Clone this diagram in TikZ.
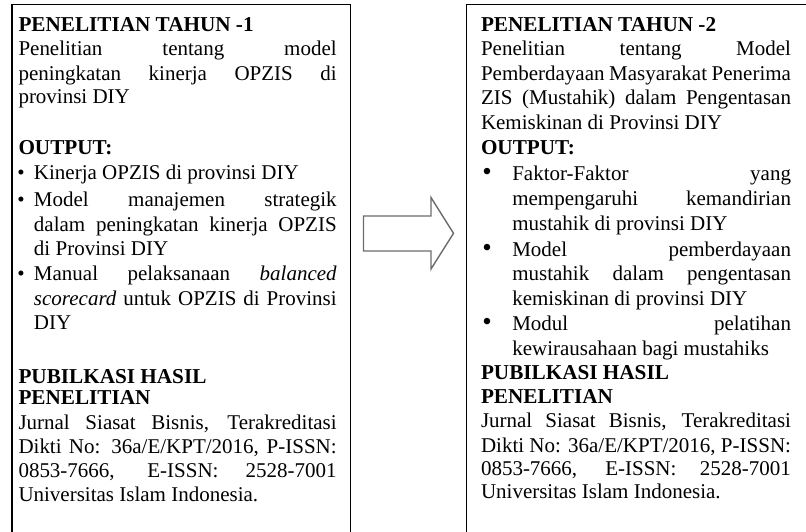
\documentclass[tikz,border=0pt]{standalone}
\usepackage{fontspec}
\setmainfont{Liberation Serif}
\newcommand{\jl}[2]{\makebox[#1pt][s]{#2}}
\begin{document}
\begin{tikzpicture}[x=1pt,y=-1pt,
  txt/.style={anchor=base west, inner sep=0pt, outer sep=0pt, font=\fontsize{21.0}{24}\selectfont},
  hd/.style={txt, font=\fontsize{21.2}{24}\selectfont\bfseries},
  blt/.style={anchor=base, inner sep=0pt, outer sep=0pt, font=\fontsize{21.0}{24}\selectfont},
  bltb/.style={anchor=base, inner sep=0pt, outer sep=0pt, font=\fontsize{27}{24}\selectfont},
  frame/.style={line width=1.3pt, line cap=rect},
  blockarrow/.style={draw=black!58, line width=1.4pt, line join=miter}]
\useasboundingbox (0,0) rectangle (806,532);

% frames of the two boxes (they run past the page edges)
\draw[frame] (12,540) -- (12,4.2) -- (350.7,4.2) -- (350.7,540);
\draw[frame] (466.7,540) -- (466.7,4.2) -- (815,4.2);

% block arrow between the boxes
\draw[blockarrow] (363.5,216) -- (431,216) -- (431,197.5) -- (453.5,233.3)
  -- (431,269) -- (431,251) -- (363.5,251) -- cycle;

% ---------- year 1 ----------
\node[hd]  (a1)  at (18.5,31.7) {PENELITIAN TAHUN -1};
\node[txt] (a2)  at (18.5,56)   {\jl{318.2}{Penelitian tentang model}};
\node[txt] (a3)  at (18.5,80.5) {\jl{318.2}{peningkatan kinerja OPZIS di}};
\node[txt] (a4)  at (18.5,104)  {provinsi DIY};
\node[hd]  (a5)  at (18.5,155)  {OUTPUT:};
\node[blt] (ab1) at (21,179)    {•};
\node[txt] (a6)  at (34,179)    {Kinerja OPZIS di provinsi DIY};
\node[blt] (ab2) at (21,206)    {•};
\node[txt] (a7)  at (34,206)    {\jl{302.7}{Model manajemen strategik}};
\node[txt] (a8)  at (34,231)    {\jl{302.7}{dalam peningkatan kinerja OPZIS}};
\node[txt] (a9)  at (34,255)    {di Provinsi DIY};
\node[blt] (ab3) at (21,280.7)  {•};
\node[txt] (a10) at (34,280.7)  {\jl{302.7}{Manual pelaksanaan \textit{balanced}}};
\node[txt] (a11) at (34,305)    {\jl{302.7}{\textit{scorecard} untuk OPZIS di Provinsi}};
\node[txt] (a12) at (34,329)    {DIY};
\node[hd]  (a13) at (18.5,383)  {PUBILKASI HASIL};
\node[hd]  (a14) at (18.5,404)  {PENELITIAN};
\node[txt] (a15) at (18.5,429)  {\jl{318.2}{Jurnal Siasat Bisnis, Terakreditasi}};
\node[txt] (a16) at (18.5,453)  {\jl{318.2}{Dikti No: 36a/E/KPT/2016, P-ISSN:}};
\node[txt] (a17) at (18.5,477)  {\jl{318.2}{0853-7666, E-ISSN: 2528-7001}};
\node[txt] (a18) at (18.5,501)  {Universitas Islam Indonesia.};

% ---------- year 2 ----------
\node[hd]  (b1)  at (481,32)    {PENELITIAN TAHUN -2};
\node[txt] (b2)  at (481,56)    {\jl{310}{Penelitian tentang Model}};
\node[txt] (b3)  at (481,81)    {\jl{310}{Pemberdayaan Masyarakat Penerima}};
\node[txt] (b4)  at (481,105)   {\jl{310}{ZIS (Mustahik) dalam Pengentasan}};
\node[txt] (b5)  at (481,130)   {Kemiskinan di Provinsi DIY};
\node[hd]  (b6)  at (481,154)   {OUTPUT:};
\node[bltb] (bb1) at (487,180)  {•};
\node[txt] (b7)  at (512.3,180) {\jl{278.7}{Faktor-Faktor yang}};
\node[txt] (b8)  at (512.3,205) {\jl{278.7}{mempengaruhi kemandirian}};
\node[txt] (b9)  at (512.3,230) {mustahik di provinsi DIY};
\node[bltb] (bb2) at (487,256)  {•};
\node[txt] (b10) at (512.3,256) {\jl{278.7}{Model pemberdayaan}};
\node[txt] (b11) at (512.3,280) {\jl{278.7}{mustahik dalam pengentasan}};
\node[txt] (b12) at (512.3,305) {kemiskinan di provinsi DIY};
\node[bltb] (bb3) at (487,330)  {•};
\node[txt] (b13) at (512.3,330) {\jl{278.7}{Modul pelatihan}};
\node[txt] (b14) at (512.3,355) {kewirausahaan bagi mustahiks};
\node[hd]  (b15) at (481,379)   {PUBILKASI HASIL};
\node[hd]  (b16) at (481,403)   {PENELITIAN};
\node[txt] (b17) at (481,427)   {\jl{310}{Jurnal Siasat Bisnis, Terakreditasi}};
\node[txt] (b18) at (481,452)   {\jl{310}{Dikti No: 36a/E/KPT/2016, P-ISSN:}};
\node[txt] (b19) at (481,475)   {\jl{310}{0853-7666, E-ISSN: 2528-7001}};
\node[txt] (b20) at (481,498)   {Universitas Islam Indonesia.};
\end{tikzpicture}
\end{document}
